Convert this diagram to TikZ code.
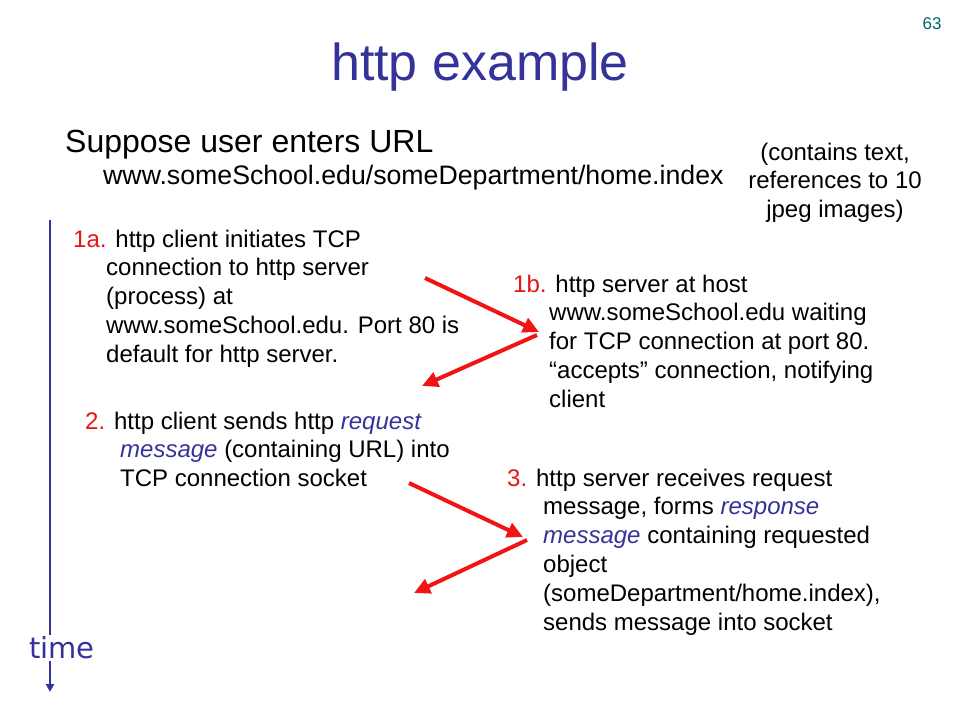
\documentclass[tikz,border=0pt]{standalone}
\usepackage{fontspec}
\setmainfont{Liberation Sans}
\newfontfamily\timefont{DejaVu Sans}
\usetikzlibrary{arrows.meta}
\definecolor{slideblue}{RGB}{51,51,153}
\definecolor{slidered}{RGB}{228,22,22}
\definecolor{arrowred}{RGB}{240,20,20}
\definecolor{pagenum}{RGB}{0,102,102}
\newcommand{\numtag}[1]{\textcolor{slidered}{#1}}
\newcommand{\hilite}[1]{\textcolor{slideblue}{\itshape #1}}
\newcommand{\indentby}[1]{\hspace*{#1}}

\begin{document}
\begin{tikzpicture}[x=1pt,y=-1pt,
	block/.style={anchor=north west,align=left,inner sep=0pt,font=\fontsize{24}{28.8}\selectfont},
	flow/.style={draw=arrowred,line width=4pt,-{Triangle[length=16pt,width=15pt]}}]
	\useasboundingbox (0,0) rectangle (960,720);
	\node[anchor=base,text=pagenum,inner sep=0pt,font=\fontsize{17}{20}\selectfont] (page) at (932,29) {63};
	\node[anchor=base,text=slideblue,inner sep=0pt,font=\fontsize{52}{60}\selectfont] (title) at (480,80) {http example};
	\node[anchor=base west,inner sep=0pt,font=\fontsize{32}{38}\selectfont] (suppose) at (65,152) {Suppose user enters URL};
	\node[anchor=base west,inner sep=0pt,font=\fontsize{26.7}{32}\selectfont] (url) at (103,184) {www.someSchool.edu/someDepartment/home.index};
	\node[block,anchor=north,align=center] (contains) at (835,139.8) {\strut(contains text,\\references to 10\\jpeg images)};
	\node[block] (step1a) at (73,226.8) {\strut\numtag{1a.} http client initiates TCP\\
		\indentby{33pt}connection to http server\\
		\indentby{33pt}(process) at\\
		\indentby{33pt}www.someSchool.edu.  Port 80 is\\
		\indentby{33pt}default for http server.};
	\node[block] (step1b) at (513,271.8) {\strut\numtag{1b.} http server at host\\
		\indentby{36pt}www.someSchool.edu waiting\\
		\indentby{36pt}for TCP connection at port 80.\\
		\indentby{36pt}“accepts” connection, notifying\\
		\indentby{36pt}client};
	\node[block] (step2) at (85,408.8) {\strut\numtag{2.} http client sends http \hilite{request}\\
		\indentby{35pt}\hilite{message} (containing URL) into\\
		\indentby{35pt}TCP connection socket};
	\node[block] (step3) at (507,465.8) {\strut\numtag{3.} http server receives request\\
		\indentby{36pt}message, forms \hilite{response}\\
		\indentby{36pt}\hilite{message} containing requested\\
		\indentby{36pt}object\\
		\indentby{36pt}(someDepartment/home.index),\\
		\indentby{36pt}sends message into socket};
	\coordinate (tcpout) at (425,278);
	\coordinate (tcpin) at (539,332);
	\coordinate (ackout) at (537,335);
	\coordinate (ackin) at (422,386);
	\coordinate (reqout) at (409,483);
	\coordinate (reqin) at (523,537);
	\coordinate (resout) at (527,540);
	\coordinate (resin) at (414,593);
	\draw[flow] (tcpout) -- (tcpin);
	\draw[flow] (ackout) -- (ackin);
	\draw[flow] (reqout) -- (reqin);
	\draw[flow] (resout) -- (resin);
	\coordinate (start) at (50,220);
	\coordinate (finish) at (50,692);
	\draw[slideblue,line width=2pt,-{Triangle[length=8pt,width=8pt]}] (start) -- (finish);
	\node[fill=white,text=slideblue,inner sep=2pt,font=\timefont\fontsize{29}{34}\selectfont] (time) at (62,648) {time};
\end{tikzpicture}
\end{document}
